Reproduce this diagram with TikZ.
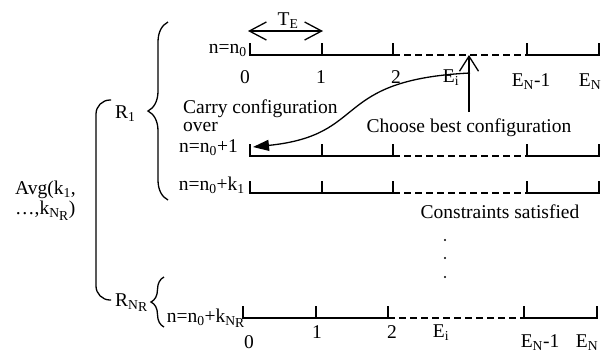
\documentclass[tikz,border=0pt]{standalone}
\usepackage{fontspec}
\setmainfont{Liberation Serif}
\usetikzlibrary{arrows.meta,positioning,decorations.pathreplacing}
\newcommand{\sbs}[1]{\textsubscript{#1}}
\newcommand{\nsubr}{\sbs{N\raisebox{-0.2em}{R}}}
\tikzset{
  lbl/.style={inner sep=0pt, font=\fontsize{19.5}{18}\selectfont},
  tline/.style={line width=1.3pt},
  gapline/.style={tline, dash pattern=on 7pt off 4pt},
  brc/.style={tline, decorate, decoration={brace, amplitude=#1, aspect=0.5}},
  barbarr/.style={-{Straight Barb[length=15pt, width=19pt]}, tline},
  spanarr/.style={{Straight Barb[length=17pt, width=18pt]}-{Straight Barb[length=17pt, width=18pt]}, tline},
  carryarr/.style={-{Triangle[length=16pt, width=11pt]}, tline}
}

\begin{document}
\begin{tikzpicture}[x=1pt, y=-1pt]
  \useasboundingbox (0,0) rectangle (612,357);
  % time axes, one per iteration
  \foreach \yy/\xa/\xb/\xc/\xd/\xe in {55/250/322/393/527/599, 156/250/322/393/527/599,
      193/250/322/393/527/599, 318/243/316/388/524/597} {
    \draw[tline] (\xa,\yy-12) -- (\xa,\yy) -- (\xc,\yy) -- (\xc,\yy-12);
    \draw[tline] (\xb,\yy) -- (\xb,\yy-12);
    \draw[gapline] (\xc,\yy) -- (\xd,\yy);
    \draw[tline] (\xd,\yy-12) -- (\xd,\yy) -- (\xe,\yy) -- (\xe,\yy-12);
  }

  \node[lbl, anchor=base] (te) at (288,25) {T\sbs{E}};
  \coordinate (tel) at (248,31);
  \coordinate (ter) at (323,31);
  \draw[spanarr] (tel) -- (ter);

  \node[lbl, anchor=base east] (n0) at (247,53) {n=n\sbs{0}};
  \node[lbl, anchor=base east] (n1) at (238,152) {n=n\sbs{0}+1};
  \node[lbl, anchor=base east] (nk) at (245,190) {n=n\sbs{0}+k\sbs{1}};
  \node[lbl, anchor=base east] (nr) at (245,322) {n=n\sbs{0}+k\nsubr};

  \node[lbl, anchor=base] (t0) at (245,83) {0};
  \node[lbl, anchor=base] (t1) at (321,83) {1};
  \node[lbl, anchor=base] (t2) at (396,83) {2};
  \node[lbl, anchor=base] (ti) at (451,82) {E\sbs{i}};
  \node[lbl, anchor=base] (tm) at (531,86) {E\sbs{N}-1};
  \node[lbl, anchor=base] (tn) at (590,86) {E\sbs{N}};

  \node[lbl, anchor=base] (b0) at (249,348) {0};
  \node[lbl, anchor=base] (b1) at (317,338) {1};
  \node[lbl, anchor=base] (b2) at (392,338) {2};
  \node[lbl, anchor=base] (bi) at (441,337) {E\sbs{i}};
  \node[lbl, anchor=base] (bm) at (540,347) {E\sbs{N}-1};
  \node[lbl, anchor=base] (bn) at (587,347) {E\sbs{N}};

  \node[lbl, anchor=north west, align=left] (carry) at (183,100) {Carry configuration\\over};
  \node[lbl, anchor=base, inner ysep=6pt] (choose) at (469,132) {Choose best configuration};
  \node[lbl, anchor=base] (cons) at (500,218) {Constraints satisfied};

  \coordinate (pick) at (469,55);
  \draw[barbarr] (choose.north) -- (pick);
  \coordinate (src) at (470,73);
  \coordinate (dst) at (253,147);
  \draw[carryarr] (src) .. controls (330,80) and (370,135) .. (dst);

  \foreach \yy in {240,258,277}
    \fill (445,\yy) circle[radius=1.1pt];

  \node[lbl, anchor=base west] (r1) at (115,118) {R\sbs{1}};
  \node[lbl, anchor=base west] (rr) at (115,306) {R\nsubr};
  \draw[brc=20pt] (168,200) -- (168,22);
  \draw[brc=13pt] (164,327) -- (164,277);
  \draw[tline, rounded corners=14pt] (111,100) -- (96,100) -- (96,300) -- (111,300);

  \node[lbl, anchor=north west, align=left, font=\fontsize{19.5}{20}\selectfont] (avg) at (15,181) {Avg(k\sbs{1},\\…,k\nsubr)};
\end{tikzpicture}
\end{document}
